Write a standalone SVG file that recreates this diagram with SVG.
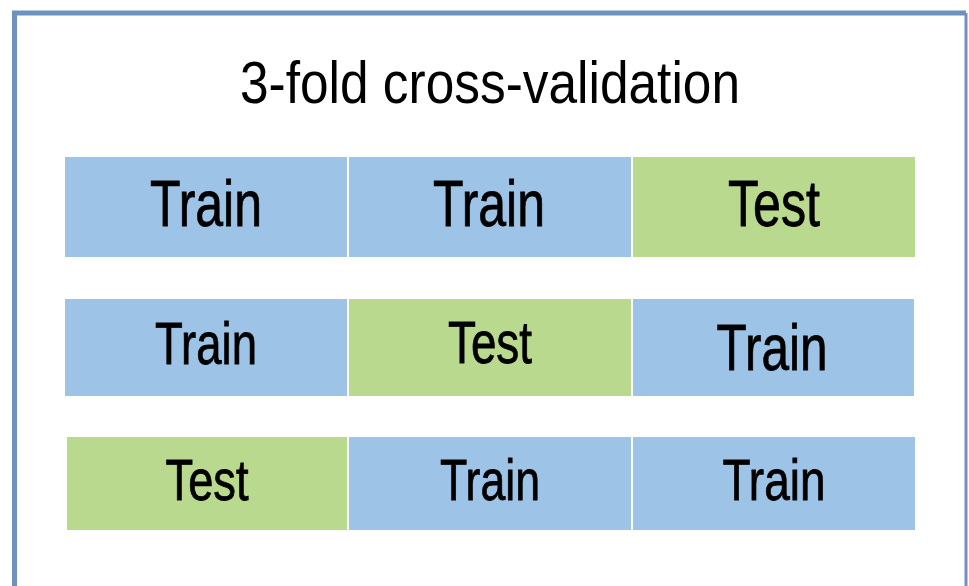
<svg xmlns="http://www.w3.org/2000/svg" width="969" height="586" viewBox="0 0 969 586">
<style>
.train{fill:#9DC3E6;}
.test{fill:#B9D98F;}
text{font-family:"Liberation Sans",Arial,sans-serif;fill:#000;text-anchor:middle;}
.lbl{stroke:#000;stroke-width:0.8px;}
.frame{fill:none;stroke:#6E91BE;}
</style>
<rect width="969" height="586" fill="#fff"/>
<path class="frame" d="M14.5 600 V13 H966" stroke-width="5"/>
<path class="frame" d="M966 13 V600" stroke-width="3"/>
<g id="title"><text x="490" y="103" font-size="60" textLength="500" lengthAdjust="spacingAndGlyphs">3-fold cross-validation</text></g>
<g id="r1c1"><rect class="train" x="65" y="157" width="282" height="100"/><text class="lbl" x="206" y="226" font-size="64" textLength="112" lengthAdjust="spacingAndGlyphs">Train</text></g>
<g id="r1c2"><rect class="train" x="349" y="157" width="282" height="100"/><text class="lbl" x="489" y="226" font-size="64" textLength="112" lengthAdjust="spacingAndGlyphs">Train</text></g>
<g id="r1c3"><rect class="test" x="633" y="157" width="282" height="100"/><text class="lbl" x="774" y="226" font-size="64" textLength="92" lengthAdjust="spacingAndGlyphs">Test</text></g>
<g id="r2c1"><rect class="train" x="65" y="299" width="282" height="97"/><text class="lbl" x="206" y="364" font-size="60" textLength="102" lengthAdjust="spacingAndGlyphs">Train</text></g>
<g id="r2c2"><rect class="test" x="349" y="299" width="282" height="97"/><text class="lbl" x="490" y="363" font-size="60" textLength="84" lengthAdjust="spacingAndGlyphs">Test</text></g>
<g id="r2c3"><rect class="train" x="633" y="299" width="281" height="97"/><text class="lbl" x="772" y="370" font-size="65" textLength="111" lengthAdjust="spacingAndGlyphs">Train</text></g>
<g id="r3c1"><rect class="test" x="67" y="437" width="280" height="93"/><text class="lbl" x="207" y="500" font-size="57" textLength="83" lengthAdjust="spacingAndGlyphs">Test</text></g>
<g id="r3c2"><rect class="train" x="349" y="437" width="282" height="93"/><text class="lbl" x="490" y="500" font-size="57" textLength="100" lengthAdjust="spacingAndGlyphs">Train</text></g>
<g id="r3c3"><rect class="train" x="633" y="437" width="282" height="93"/><text class="lbl" x="774" y="500" font-size="57" textLength="103" lengthAdjust="spacingAndGlyphs">Train</text></g>
<g id="connectors"/>
</svg>
